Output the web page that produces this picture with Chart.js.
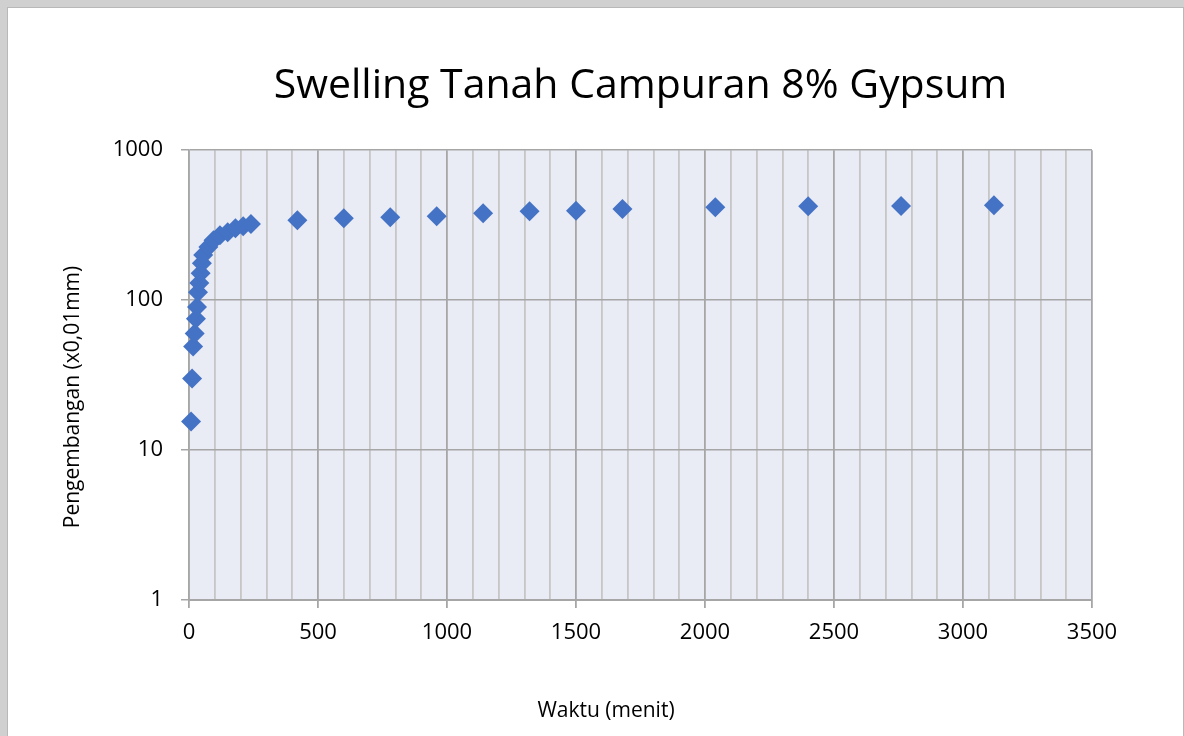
<!DOCTYPE html>
<html>
<head>
<meta charset="utf-8">
<script src="https://cdn.jsdelivr.net/npm/chart.js@4.4.1/dist/chart.umd.min.js"></script>
<style>
  html, body { margin: 0; padding: 0; background: #d0d0d0; overflow: hidden; }
  #frame { position: absolute; left: 7px; top: 7px; width: 1175px; height: 740px; background: #fff; border: 1px solid #b8b8b8; }
  #wrap { position: absolute; left: 0; top: 0; width: 1184px; height: 736px; }
</style>
</head>
<body>
<div id="frame"></div>
<div id="wrap"><canvas id="chart" width="1184" height="736"></canvas></div>
<script>
// time (minutes) and swelling (x0,01 mm)
const waktu = [8, 12, 16, 22, 27, 31, 35, 40, 45, 50, 55, 75, 95, 120, 150, 180, 210, 240,
               420, 600, 780, 960, 1140, 1320, 1500, 1680, 2040, 2400, 2760, 3120];
const pengembangan = [15.5, 30, 49, 60, 75, 90, 113, 130, 151, 176, 200, 226, 251, 271, 284, 302, 311, 322,
                      341, 352, 357, 363, 380, 392, 394, 405, 417, 423, 425, 430];
const xTicks = [0, 500, 1000, 1500, 2000, 2500, 3000, 3500];
const yTicks = [1, 10, 100, 1000];

const judul = 'Swelling Tanah Campuran 8% Gypsum';
const judulX = 'Waktu (menit)';
const judulY = 'Pengembangan (x0,01mm)';

const points = waktu.map((t, i) => ({ x: t, y: pengembangan[i] }));

// plot background + axis titles
const plotBg = {
    id: 'plotBg',
    beforeDraw(chart) {
        const { ctx, chartArea: a } = chart;
        ctx.save();
        ctx.fillStyle = '#e9ebf5';
        ctx.fillRect(a.left, a.top, a.right - a.left, a.bottom - a.top);
        ctx.restore();
    },
    afterDraw(chart) {
        const ctx = chart.ctx;
        ctx.save();
        ctx.fillStyle = '#000';
        ctx.font = '21px "Open Sans"';
        ctx.textAlign = 'center';
        ctx.textBaseline = 'middle';
        ctx.fillText(judulX, 606, 711);
        ctx.translate(73, 397);
        ctx.rotate(-Math.PI / 2);
        ctx.fillText(judulY, 0, 0);
        ctx.restore();
    }
};

new Chart(document.getElementById('chart'), {
    type: 'scatter',
    data: {
        datasets: [{
            label: 'Swelling',
            data: points,
            pointStyle: 'rectRot',
            pointRadius: 10,
            pointHoverRadius: 10,
            backgroundColor: '#4472c4',
            borderColor: '#4472c4',
            borderWidth: 0,
            clip: false
        }]
    },
    options: {
        responsive: false,
        animation: false,
        devicePixelRatio: 1,
        layout: { padding: { left: 0, right: 92, top: 0, bottom: 0 } },
        plugins: {
            legend: { display: false },
            tooltip: { enabled: false },
            title: {
                display: true,
                text: judul,
                fullSize: false,
                color: '#000',
                font: { family: 'Open Sans', size: 41, weight: 'normal', lineHeight: 1.2 },
                padding: { top: 62, bottom: 39 }
            }
        },
        scales: {
            x: {
                type: 'linear',
                min: 0,
                max: 3500,
                afterFit(s) { s.height = 136; },
                afterBuildTicks(s) {
                    const t = [];
                    for (let v = 0; v <= 3500; v += 100) t.push({ value: v });
                    s.ticks = t;
                },
                ticks: {
                    autoSkip: false,
                    maxRotation: 0,
                    color: '#000',
                    padding: 12,
                    font: { family: 'Open Sans', size: 22 },
                    callback: v => (xTicks.includes(v) ? String(v) : '')
                },
                grid: {
                    color: c => (c.tick && c.tick.value % 500 === 0 ? '#a6a6a6' : '#c6c6c6'),
                    tickColor: c => (c.tick && c.tick.value % 500 === 0 ? '#a6a6a6' : 'rgba(0,0,0,0)'),
                    lineWidth: 1.8,
                    tickLength: 8
                },
                border: { color: '#a6a6a6', width: 2 }
            },
            y: {
                type: 'logarithmic',
                min: 1,
                max: 1000,
                afterFit(s) { s.width = 189; },
                afterBuildTicks(s) { s.ticks = yTicks.map(v => ({ value: v })); },
                ticks: {
                    color: '#000',
                    padding: 18,
                    font: { family: 'Open Sans', size: 22 },
                    callback: v => String(v)
                },
                grid: {
                    color: '#a6a6a6',
                    lineWidth: 1.5,
                    tickLength: 8
                },
                border: { color: '#a6a6a6', width: 1.5 }
            }
        }
    },
    plugins: [plotBg]
});
</script>
</body>
</html>
